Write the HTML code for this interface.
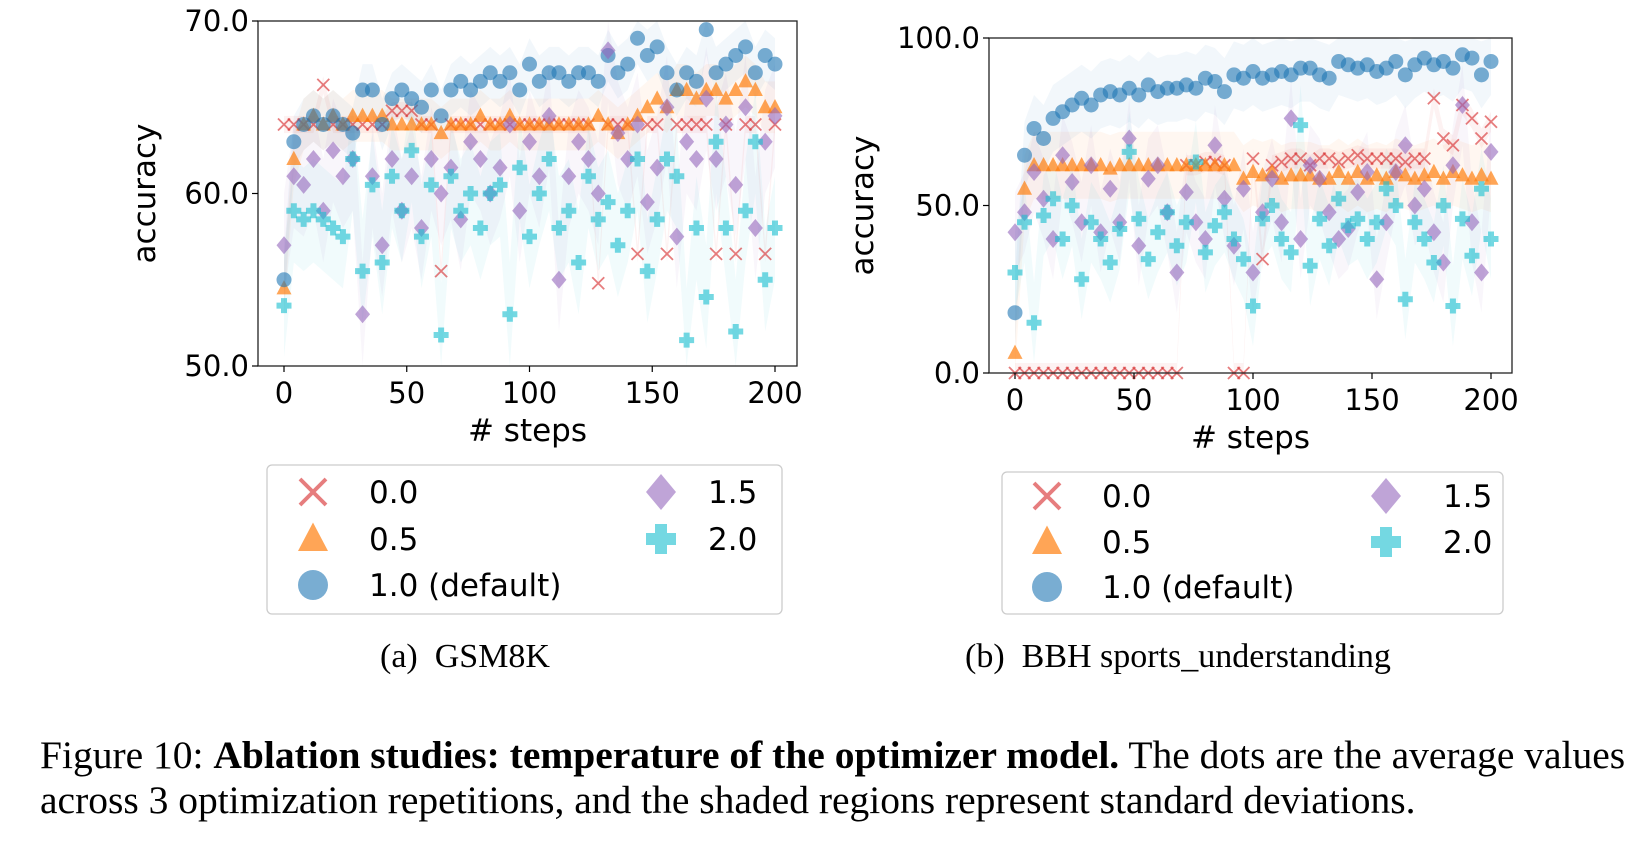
<!DOCTYPE html>
<html><head><meta charset="utf-8">
<style>
html,body{margin:0;padding:0;background:#fff;}
body{width:1643px;height:844px;overflow:hidden;position:relative;font-family:"Liberation Sans",sans-serif;}
svg text{font-family:"DejaVu Sans","Liberation Sans",sans-serif;fill:#000;}
.cap{position:absolute;font-family:"Liberation Serif",serif;color:#000;white-space:nowrap;}
</style></head>
<body>
<svg id="fig" width="1643" height="844" xmlns="http://www.w3.org/2000/svg" style="position:absolute;left:0;top:0"></svg>
<div class="cap" style="left:380px;top:638px;font-size:34px;">(a)&nbsp; GSM8K</div>
<div class="cap" style="left:965px;top:638px;font-size:34px;">(b)&nbsp; BBH sports_understanding</div>
<div class="cap" style="left:40px;top:733px;font-size:39.5px;line-height:45px;">Figure 10: <b>Ablation studies: temperature of the optimizer model.</b> The dots are the average values<br>across 3 optimization repetitions, and the shaded regions represent standard deviations.</div>
<script>
// steps sampled every 4
const steps = Array.from({length:51},(_,i)=>i*4);
const gsmTemp00 = [64,64,64,64,66.3,64,64,64,64,64,64,64.8,64.8,64.8,64,64,55.5,64,64,64,64,64,64,64,64,64,64,64,64,64,64,64,54.8,64,64,64,56.5,64,64,56.5,64,64,64,64,56.5,64,56.5,64,64,56.5,64];
const gsmTemp05 = [54.5,62,64,64.5,64,64.5,64,64.5,64.5,64.5,64.5,64,64,64,64,64,63.5,64,64,64,64.5,64,64,64.5,64,64,64,64,64,64,64,64,64.5,64,63.5,64,64.5,65,65.5,65,66,66,65.5,66,66,65.5,66,66.5,66,65,65];
const gsmTemp10 = [55,63,64,64.5,64,64.5,64,63.5,66,66,64,65.5,66,65.5,65,66,64.5,66,66.5,66,66.5,67,66.5,67,66,67.5,66.5,67,67,66.5,67,67,66.5,68,67,67.5,69,68,68.5,67,66,67,66.5,69.5,67,67.5,68,68.5,67,68,67.5];
const gsmTemp15 = [57,61,60.5,62,59,62.5,61,62,53,61,57,62,59,61,58,62,60,61.5,58.5,63,62,60,61.5,64,59,63,61,64.5,55,61,63,62,60,68.3,63.5,62,64,59.5,61.5,65,57.5,63,62,65.5,62,64,60.5,65,58,63,64.5];
const gsmTemp20 = [53.5,59,58.5,59,58.5,58,57.5,62,55.5,60.5,56,61,59,62.5,57.5,60.5,51.8,61,59,60,58,60,60.5,53,61.5,57.5,60,62,58,59,56,61,58.5,59.5,57,59,62,55.5,58.5,62,61,51.5,58,54,63,58,52,59,63,55,58];
const bbhTemp00 = [0,0,0,0,0,0,0,0,0,0,0,0,0,0,0,0,0,0,62,62,63,63,62,0,0,64,34,62,63,64,64,62,64,64,63,64,65,64,64,64,64,63,64,64,82,70,68,80,76,70,75];
const bbhTemp05 = [6,55,62,62,62,62,62,62,62,62,61,62,62,62,62,62,62,62,62,62,62,62,62,62,58,60,59,60,58,59,59,59,58,58,60,58,60,58,59,58,60,59,58,59,60,58,60,59,58,59,58];
const bbhTemp10 = [18,65,73,70,76,78,80,82,80,83,84,83,85,83,86,84,85,85,86,85,88,87,84,89,88,90,88,89,90,89,91,91,89,88,93,92,91,92,90,91,93,89,92,94,92,93,91,95,94,89,93];
const bbhTemp15 = [42,48,60,52,40,65,57,45,62,42,55,45,70,38,58,62,48,30,54,45,40,68,52,38,55,30,48,58,45,76,40,62,58,48,40,43,54,60,28,45,60,68,50,55,42,33,62,80,45,30,66];
const bbhTemp20 = [30,45,15,47,52,40,50,28,45,40,33,43,66,46,34,42,48,38,45,63,36,44,48,40,34,20,46,50,40,36,74,32,46,38,52,44,46,40,45,55,50,22,45,40,33,50,20,46,35,55,40];
const gsmYTicks = [50,60,70];
const bbhYTicks = [0,50,100];
const xTicks = [0,50,100,150,200];

const NS='http://www.w3.org/2000/svg';
const svg=document.getElementById('fig');
function mk(tag,attrs,parent){const e=document.createElementNS(NS,tag);for(const k in attrs)e.setAttribute(k,attrs[k]);(parent||svg).appendChild(e);return e;}
const COL={r:'#d62728',o:'#ff7f0e',b:'#1f77b4',p:'#9467bd',c:'#17becf'};
function marker(g,type,x,y,s){
  let e;
  if(type==='r'){e=mk('path',{d:`M${x-s},${y-s}L${x+s},${y+s}M${x-s},${y+s}L${x+s},${y-s}`,stroke:COL.r,'stroke-width':s*0.3,'stroke-opacity':0.6,fill:'none'},g);}
  else if(type==='o'){e=mk('polygon',{points:`${x},${y-s*1.1} ${x+s},${y+s*0.8} ${x-s},${y+s*0.8}`,fill:COL.o,'fill-opacity':0.7},g);}
  else if(type==='b'){e=mk('circle',{cx:x,cy:y,r:s,fill:COL.b,'fill-opacity':0.6},g);}
  else if(type==='p'){e=mk('polygon',{points:`${x},${y-s*1.2} ${x+s},${y} ${x},${y+s*1.2} ${x-s},${y}`,fill:COL.p,'fill-opacity':0.6},g);}
  else {const t=s*0.4;e=mk('path',{d:`M${x-t},${y-s}h${2*t}v${s-t}h${s-t}v${2*t}h${-(s-t)}v${s-t}h${-2*t}v${-(s-t)}h${-(s-t)}v${-2*t}h${s-t}z`,fill:COL.c,'fill-opacity':0.6},g);}
  return e;
}
function chart(id,box,x0,x1,ymin,ymax,yTicks,series,labX){
  const g=mk('g',{});
  
  
  const X=v=>x0+(x1-x0)*v/200;
  const Y=v=>box.b-(box.b-box.t)*(v-ymin)/(ymax-ymin);
  series.forEach(s=>{
    let up='',dn='';
    s.data.forEach((v,i)=>{up+=`${X(steps[i])},${Y(Math.min(ymax,v+s.sd))} `;});
    for(let i=s.data.length-1;i>=0;i--)dn+=`${X(steps[i])},${Y(Math.max(ymin,s.data[i]-s.sd))} `;
    const p=mk('polygon',{points:up+dn,fill:COL[s.t],'fill-opacity':0.06},g);
    
    
  });
  series.forEach(s=>{
    s.data.forEach((v,i)=>{
      const m=marker(g,s.t,X(steps[i]),Y(v),s.t==='r'?6:7.5);
      
      
    });
  });
  const fr=mk('rect',{x:box.l,y:box.t,width:box.r-box.l,height:box.b-box.t,fill:'none',stroke:'#222','stroke-width':1.3},g);
  
  
  yTicks.forEach(v=>{
    mk('line',{x1:box.l-6,x2:box.l,y1:Y(v),y2:Y(v),stroke:'#000','stroke-width':1.2},g);
    const t=mk('text',{x:box.l-9,y:Y(v)+10,'text-anchor':'end','font-size':29},g);t.textContent=v.toFixed(1);
    
    
  });
  xTicks.forEach(v=>{
    mk('line',{x1:X(v),x2:X(v),y1:box.b,y2:box.b+6,stroke:'#000','stroke-width':1.2},g);
    const t=mk('text',{x:X(v),y:box.b+37,'text-anchor':'middle','font-size':29},g);t.textContent=v;
    
    
  });
  const xl=mk('text',{x:(box.l+box.r)/2,y:box.b+75,'text-anchor':'middle','font-size':31},g);xl.textContent='# steps';
  
  
  const yc=(box.t+box.b)/2;
  const yl=mk('text',{x:labX,y:yc,'text-anchor':'middle','font-size':31,transform:`rotate(-90 ${labX} ${yc})`},g);yl.textContent='accuracy';
  
  
}
function legend(id,bx,by,bw,bh,m1,t1,m2,t2,rows){
  const g=mk('g',{});
  
  
  mk('rect',{x:bx,y:by,width:bw,height:bh,rx:5,fill:'#fff',stroke:'#ccc','stroke-width':1.3},g);
  const items=[['r','0.0',m1,t1,rows[0]],['o','0.5',m1,t1,rows[1]],['b','1.0 (default)',m1,t1,rows[2]],['p','1.5',m2,t2,rows[0]],['c','2.0',m2,t2,rows[1]]];
  items.forEach(it=>{
    const e=mk('g',{},g);
    
    
    marker(e,it[0],it[2],it[4],it[0]==='r'?13:15);
    const t=mk('text',{x:it[3],y:it[4]+11,'font-size':31},e);t.textContent=it[1];
  });
}
const gsmSeries=[{name:'t00',t:'r',data:gsmTemp00,sd:0.5},{name:'t05',t:'o',data:gsmTemp05,sd:1.5},{name:'t10',t:'b',data:gsmTemp10,sd:1.5},{name:'t15',t:'p',data:gsmTemp15,sd:3},{name:'t20',t:'c',data:gsmTemp20,sd:3}];
const bbhSeries=[{name:'t00',t:'r',data:bbhTemp00,sd:3},{name:'t05',t:'o',data:bbhTemp05,sd:10},{name:'t10',t:'b',data:bbhTemp10,sd:10},{name:'t15',t:'p',data:bbhTemp15,sd:12},{name:'t20',t:'c',data:bbhTemp20,sd:12}];
chart('gsm8k-chart',{l:258,r:797,t:21,b:366},284,775,50,70,gsmYTicks,gsmSeries,155);
chart('bbh-chart',{l:989,r:1512,t:38,b:373},1015,1491,0,100,bbhYTicks,bbhSeries,873);
legend('gsm8k-legend',267,465,515,149,313,369,661,708,[492,539,585]);
legend('bbh-legend',1002,472,501,142,1047,1102,1386,1443,[496,542,587]);
</script>
</body></html>
